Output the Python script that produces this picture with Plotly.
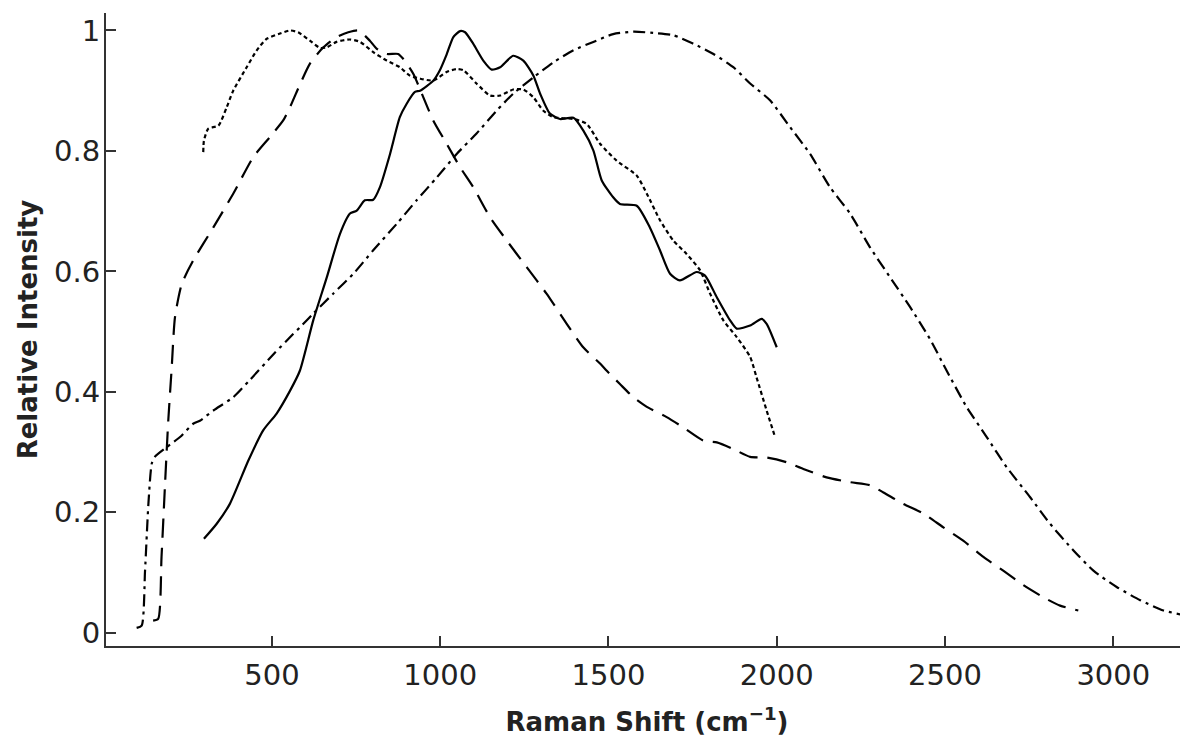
import plotly.graph_objects as go

# Solid curve
solid_x = [298, 336, 375, 430, 474, 514, 554, 583, 623, 663, 702, 732, 752, 776, 801, 821, 851, 880, 900, 925, 940, 980, 999, 1019, 1039, 1059, 1074, 1098, 1128, 1153, 1178, 1217, 1247, 1277, 1297, 1326, 1356, 1396, 1425, 1455, 1480, 1514, 1534, 1584, 1623, 1653, 1683, 1712, 1762, 1787, 1822, 1861, 1881, 1921, 1955, 1970, 2000]
solid_y = [0.156, 0.181, 0.214, 0.286, 0.336, 0.364, 0.402, 0.435, 0.519, 0.590, 0.662, 0.696, 0.701, 0.718, 0.719, 0.740, 0.795, 0.856, 0.878, 0.898, 0.900, 0.917, 0.934, 0.960, 0.989, 0.999, 0.997, 0.978, 0.950, 0.935, 0.939, 0.958, 0.950, 0.925, 0.895, 0.862, 0.853, 0.855, 0.834, 0.801, 0.751, 0.723, 0.712, 0.709, 0.673, 0.635, 0.596, 0.585, 0.599, 0.593, 0.557, 0.519, 0.505, 0.510, 0.521, 0.513, 0.474]

# Dotted curve
dot_x = [296, 298, 311, 341, 366, 385, 425, 455, 484, 524, 554, 578, 613, 643, 663, 692, 732, 762, 801, 841, 880, 910, 940, 980, 1019, 1049, 1069, 1108, 1148, 1178, 1217, 1247, 1277, 1306, 1336, 1396, 1435, 1475, 1524, 1584, 1614, 1653, 1693, 1732, 1772, 1802, 1841, 1881, 1921, 1940, 1970, 1995]
dot_y = [0.798, 0.817, 0.837, 0.842, 0.873, 0.900, 0.939, 0.967, 0.986, 0.995, 1.000, 0.997, 0.983, 0.971, 0.972, 0.981, 0.985, 0.981, 0.964, 0.950, 0.939, 0.925, 0.920, 0.917, 0.931, 0.936, 0.934, 0.912, 0.892, 0.892, 0.902, 0.902, 0.889, 0.867, 0.856, 0.853, 0.845, 0.812, 0.784, 0.759, 0.729, 0.685, 0.651, 0.629, 0.602, 0.563, 0.519, 0.491, 0.458, 0.424, 0.369, 0.325]

# Long-dash curve
dash_x = [147, 162, 172, 182, 192, 202, 212, 232, 266, 326, 385, 445, 494, 534, 554, 583, 613, 653, 692, 727, 757, 791, 811, 841, 875, 890, 920, 950, 979, 1019, 1059, 1098, 1148, 1198, 1257, 1316, 1376, 1425, 1475, 1495, 1534, 1574, 1614, 1673, 1722, 1782, 1822, 1871, 1921, 1970, 2030, 2079, 2148, 2218, 2277, 2317, 2376, 2436, 2495, 2554, 2614, 2673, 2733, 2792, 2842, 2896]
dash_y = [0.020, 0.023, 0.126, 0.242, 0.352, 0.438, 0.524, 0.579, 0.618, 0.673, 0.729, 0.790, 0.823, 0.851, 0.873, 0.910, 0.945, 0.972, 0.989, 0.997, 1.000, 0.983, 0.970, 0.961, 0.961, 0.953, 0.928, 0.889, 0.851, 0.812, 0.773, 0.740, 0.690, 0.651, 0.607, 0.563, 0.513, 0.474, 0.447, 0.435, 0.413, 0.391, 0.375, 0.358, 0.341, 0.319, 0.316, 0.305, 0.292, 0.291, 0.283, 0.272, 0.258, 0.250, 0.245, 0.233, 0.214, 0.198, 0.175, 0.153, 0.126, 0.103, 0.079, 0.059, 0.045, 0.037]

# Dash-dot curve
dd_x = [98, 113, 123, 133, 143, 152, 187, 227, 266, 286, 326, 385, 435, 504, 563, 583, 623, 682, 742, 801, 871, 930, 990, 1049, 1108, 1168, 1217, 1277, 1336, 1396, 1455, 1514, 1574, 1633, 1693, 1752, 1812, 1871, 1921, 1980, 2039, 2099, 2158, 2218, 2277, 2337, 2396, 2455, 2505, 2564, 2624, 2683, 2753, 2812, 2881, 2941, 3010, 3080, 3149, 3204]
dd_y = [0.008, 0.012, 0.103, 0.214, 0.281, 0.292, 0.308, 0.325, 0.347, 0.352, 0.369, 0.391, 0.420, 0.462, 0.496, 0.507, 0.530, 0.563, 0.596, 0.635, 0.679, 0.718, 0.756, 0.795, 0.829, 0.867, 0.895, 0.922, 0.947, 0.967, 0.981, 0.994, 0.998, 0.996, 0.992, 0.978, 0.961, 0.939, 0.912, 0.884, 0.840, 0.795, 0.740, 0.696, 0.640, 0.590, 0.541, 0.488, 0.435, 0.375, 0.325, 0.275, 0.225, 0.181, 0.137, 0.103, 0.076, 0.054, 0.037, 0.030]

x_ticks = [500, 1000, 1500, 2000, 2500, 3000]
y_ticks = [0, 0.2, 0.4, 0.6, 0.8, 1]
y_tick_labels = ["0", "0.2", "0.4", "0.6", "0.8", "1"]

fig = go.Figure()
line_color = "#000000"
lw = 2.2
sm = 0.6
fig.add_trace(go.Scatter(x=solid_x, y=solid_y, mode="lines",
                         line=dict(color=line_color, width=lw, dash="solid", shape="spline", smoothing=sm)))
fig.add_trace(go.Scatter(x=dot_x, y=dot_y, mode="lines",
                         line=dict(color=line_color, width=lw, dash="4px,3px", shape="spline", smoothing=sm)))
fig.add_trace(go.Scatter(x=dash_x, y=dash_y, mode="lines",
                         line=dict(color=line_color, width=lw, dash="19px,10px", shape="spline", smoothing=sm)))
fig.add_trace(go.Scatter(x=dd_x, y=dd_y, mode="lines",
                         line=dict(color=line_color, width=lw, dash="12px,5px,3px,5px", shape="spline", smoothing=sm)))

axis_color = "#333333"
# page body has an 8px default margin; size the figure so the plot lands where the reference has it
fig.update_layout(
    width=1180, height=729,
    margin=dict(l=98, r=0, t=5, b=91),
    plot_bgcolor="white", paper_bgcolor="white",
    showlegend=False,
    font=dict(family="DejaVu Sans", color="#222222"),
    xaxis=dict(
        range=[7, 3222], showgrid=False, zeroline=False, automargin=False,
        showline=True, linecolor=axis_color, linewidth=2,
        ticks="inside", ticklen=10, tickwidth=1.5, tickcolor=axis_color,
        tickvals=x_ticks, tickfont=dict(size=29, family="DejaVu Sans"),
        ticklabelstandoff=2,
        title=dict(text="<b>Raman Shift (cm<sup>−1</sup>)</b>",
                   font=dict(size=26, family="DejaVu Sans"), standoff=31),
    ),
    yaxis=dict(
        range=[-0.022, 1.029], showgrid=False, zeroline=False, automargin=False,
        showline=True, linecolor=axis_color, linewidth=2,
        ticks="inside", ticklen=10, tickwidth=1.5, tickcolor=axis_color,
        tickvals=y_ticks, ticktext=y_tick_labels,
        tickfont=dict(size=29, family="DejaVu Sans"),
        ticklabelstandoff=-2,
        title=dict(text="<b>Relative Intensity</b>",
                   font=dict(size=26, family="DejaVu Sans"), standoff=9),
    ),
)

fig.write_html("out.html")
